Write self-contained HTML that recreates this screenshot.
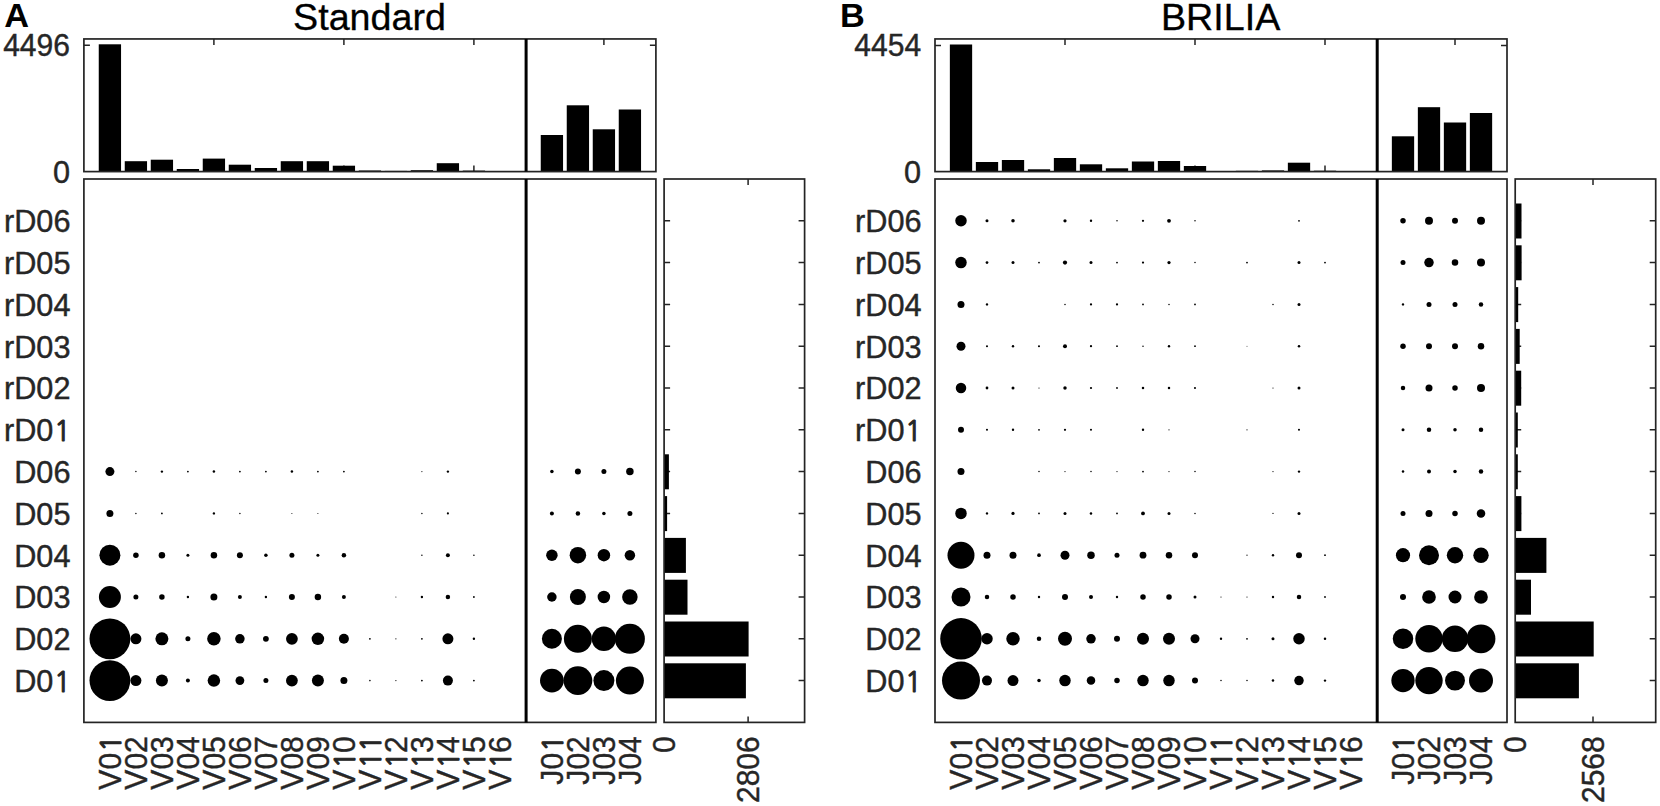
<!DOCTYPE html>
<html lang="en"><head><meta charset="utf-8"><title>Standard vs BRILIA</title>
<style>html,body{margin:0;padding:0;background:#fff}body{width:1660px;height:806px;overflow:hidden}svg{display:block}text{font-family:"Liberation Sans",Arial,Helvetica,sans-serif;font-kerning:none}.o{font-family:"NanumGothic","Liberation Sans",sans-serif;font-size:27.85px;stroke-width:1.1px}</style>
</head><body>
<svg width="1660" height="806" viewBox="0 0 1660 806">
<rect width="1660" height="806" fill="#fff"/>
<g transform="translate(0,0)">
<path d="M213.9 38.95v6M213.9 171.6v-6M343.9 38.95v6M343.9 171.6v-6M473.9 38.95v6M473.9 171.6v-6M603.9 38.95v6M603.9 171.6v-6M83.9 45.2h6M655.9 45.2h-6M664.1 680.6h6M804.6 680.6h-6M664.1 638.8h6M804.6 638.8h-6M664.1 597h6M804.6 597h-6M664.1 555.2h6M804.6 555.2h-6M664.1 513.4h6M804.6 513.4h-6M664.1 471.6h6M804.6 471.6h-6M664.1 429.8h6M804.6 429.8h-6M664.1 388h6M804.6 388h-6M664.1 346.2h6M804.6 346.2h-6M664.1 304.4h6M804.6 304.4h-6M664.1 262.6h6M804.6 262.6h-6M664.1 220.8h6M804.6 220.8h-6M748.1 179v6M748.1 722.4v-6" fill="none" stroke="#242424" stroke-width="1.5"/>
<g fill="#000"><rect x="98.75" y="44.3" width="22.3" height="127.3"/><rect x="124.75" y="161.2" width="22.3" height="10.4"/><rect x="150.75" y="159.7" width="22.3" height="11.9"/><rect x="176.75" y="169" width="22.3" height="2.6"/><rect x="202.75" y="158.6" width="22.3" height="13"/><rect x="228.75" y="164.7" width="22.3" height="6.9"/><rect x="254.75" y="168" width="22.3" height="3.6"/><rect x="280.75" y="161.2" width="22.3" height="10.4"/><rect x="306.75" y="161.2" width="22.3" height="10.4"/><rect x="332.75" y="165.7" width="22.3" height="5.9"/><rect x="358.75" y="170.5" width="22.3" height="1.1"/><rect x="384.75" y="170.9" width="22.3" height="0.7"/><rect x="410.75" y="170.2" width="22.3" height="1.4"/><rect x="436.75" y="163.2" width="22.3" height="8.4"/><rect x="462.75" y="170.6" width="22.3" height="1"/><rect x="488.75" y="171" width="22.3" height="0.6"/><rect x="540.75" y="135" width="22.3" height="36.6"/><rect x="566.75" y="105.3" width="22.3" height="66.3"/><rect x="592.75" y="129.3" width="22.3" height="42.3"/><rect x="618.75" y="109.5" width="22.3" height="62.1"/></g>
<g fill="#000"><rect x="664.1" y="663.3" width="81.8" height="35"/><rect x="664.1" y="621.5" width="84.5" height="35"/><rect x="664.1" y="579.7" width="23.4" height="35"/><rect x="664.1" y="537.9" width="21.8" height="35"/><rect x="664.1" y="496.1" width="3" height="35"/><rect x="664.1" y="454.3" width="4.8" height="35"/></g>
<g fill="#000"><circle cx="109.9" cy="680.6" r="20.4"/><circle cx="135.9" cy="680.6" r="5.5"/><circle cx="161.9" cy="680.6" r="6"/><circle cx="187.9" cy="680.6" r="2"/><circle cx="213.9" cy="680.6" r="6.25"/><circle cx="239.9" cy="680.6" r="4.4"/><circle cx="265.9" cy="680.6" r="2.5"/><circle cx="291.9" cy="680.6" r="5.9"/><circle cx="317.9" cy="680.6" r="6"/><circle cx="343.9" cy="680.6" r="3.5"/><circle cx="369.9" cy="680.6" r="0.79"/><circle cx="395.9" cy="680.6" r="0.62"/><circle cx="421.9" cy="680.6" r="0.9"/><circle cx="447.9" cy="680.6" r="5"/><circle cx="473.9" cy="680.6" r="0.9"/><circle cx="551.9" cy="680.6" r="11.9"/><circle cx="577.9" cy="680.6" r="14.4"/><circle cx="603.9" cy="680.6" r="10.5"/><circle cx="629.9" cy="680.6" r="14"/><circle cx="109.9" cy="638.8" r="20.4"/><circle cx="135.9" cy="638.8" r="5.5"/><circle cx="161.9" cy="638.8" r="6.5"/><circle cx="187.9" cy="638.8" r="2.5"/><circle cx="213.9" cy="638.8" r="6.75"/><circle cx="239.9" cy="638.8" r="4.75"/><circle cx="265.9" cy="638.8" r="2.9"/><circle cx="291.9" cy="638.8" r="5.9"/><circle cx="317.9" cy="638.8" r="6.25"/><circle cx="343.9" cy="638.8" r="5"/><circle cx="369.9" cy="638.8" r="0.9"/><circle cx="395.9" cy="638.8" r="0.62"/><circle cx="421.9" cy="638.8" r="0.9"/><circle cx="447.9" cy="638.8" r="5.5"/><circle cx="473.9" cy="638.8" r="1.18"/><circle cx="551.9" cy="638.8" r="10"/><circle cx="577.9" cy="638.8" r="14"/><circle cx="603.9" cy="638.8" r="12.25"/><circle cx="629.9" cy="638.8" r="15"/><circle cx="109.9" cy="597" r="11"/><circle cx="135.9" cy="597" r="2.5"/><circle cx="161.9" cy="597" r="2.75"/><circle cx="187.9" cy="597" r="1.18"/><circle cx="213.9" cy="597" r="3.5"/><circle cx="239.9" cy="597" r="2"/><circle cx="265.9" cy="597" r="1.18"/><circle cx="291.9" cy="597" r="3"/><circle cx="317.9" cy="597" r="3.25"/><circle cx="343.9" cy="597" r="2"/><circle cx="395.9" cy="597" r="0.52"/><circle cx="421.9" cy="597" r="1.18"/><circle cx="447.9" cy="597" r="2.25"/><circle cx="473.9" cy="597" r="0.9"/><circle cx="551.9" cy="597" r="4.75"/><circle cx="577.9" cy="597" r="8"/><circle cx="603.9" cy="597" r="6.25"/><circle cx="629.9" cy="597" r="7.75"/><circle cx="109.9" cy="555.2" r="10.5"/><circle cx="135.9" cy="555.2" r="2.75"/><circle cx="161.9" cy="555.2" r="3.25"/><circle cx="187.9" cy="555.2" r="1.5"/><circle cx="213.9" cy="555.2" r="3.25"/><circle cx="239.9" cy="555.2" r="3"/><circle cx="265.9" cy="555.2" r="1.75"/><circle cx="291.9" cy="555.2" r="2.5"/><circle cx="317.9" cy="555.2" r="1.5"/><circle cx="343.9" cy="555.2" r="2.25"/><circle cx="421.9" cy="555.2" r="0.73"/><circle cx="447.9" cy="555.2" r="2"/><circle cx="473.9" cy="555.2" r="0.79"/><circle cx="551.9" cy="555.2" r="5.75"/><circle cx="577.9" cy="555.2" r="8.25"/><circle cx="603.9" cy="555.2" r="6.25"/><circle cx="629.9" cy="555.2" r="5.25"/><circle cx="109.9" cy="513.4" r="3.5"/><circle cx="135.9" cy="513.4" r="0.73"/><circle cx="161.9" cy="513.4" r="0.9"/><circle cx="213.9" cy="513.4" r="1.18"/><circle cx="239.9" cy="513.4" r="0.73"/><circle cx="291.9" cy="513.4" r="0.52"/><circle cx="317.9" cy="513.4" r="0.52"/><circle cx="421.9" cy="513.4" r="0.73"/><circle cx="447.9" cy="513.4" r="1.07"/><circle cx="551.9" cy="513.4" r="2"/><circle cx="577.9" cy="513.4" r="2.25"/><circle cx="603.9" cy="513.4" r="1.75"/><circle cx="629.9" cy="513.4" r="2.5"/><circle cx="109.9" cy="471.6" r="4.5"/><circle cx="135.9" cy="471.6" r="0.73"/><circle cx="161.9" cy="471.6" r="1.18"/><circle cx="187.9" cy="471.6" r="0.9"/><circle cx="213.9" cy="471.6" r="1.25"/><circle cx="239.9" cy="471.6" r="0.9"/><circle cx="265.9" cy="471.6" r="0.9"/><circle cx="291.9" cy="471.6" r="1.25"/><circle cx="317.9" cy="471.6" r="0.9"/><circle cx="343.9" cy="471.6" r="0.9"/><circle cx="421.9" cy="471.6" r="0.57"/><circle cx="447.9" cy="471.6" r="1.18"/><circle cx="551.9" cy="471.6" r="1.75"/><circle cx="577.9" cy="471.6" r="3"/><circle cx="603.9" cy="471.6" r="2.5"/><circle cx="629.9" cy="471.6" r="3.75"/></g>
<g fill="none" stroke="#242424" stroke-width="1.7">
<rect x="83.9" y="38.95" width="572" height="132.65"/>
<rect x="83.9" y="179" width="572" height="543.4"/>
<rect x="664.1" y="179" width="140.5" height="543.4"/>
</g>
<path d="M526.1 38.95V171.6M526.1 179V722.4" stroke="#000" stroke-width="3" fill="none"/>
<g fill="#262626" stroke="#262626" stroke-width="0.4" font-size="31">
<text transform="translate(70,55.9) scale(0.97,1)" text-anchor="end">4496</text>
<text transform="translate(70,182.9) scale(0.99,1)" text-anchor="end">0</text>
<text x="0.14" transform="translate(70.5,691.9) scale(0.99,1)" text-anchor="end">D0<tspan class="o" dx="0.5">1</tspan></text>
<text x="0" transform="translate(70.5,650.1) scale(0.99,1)" text-anchor="end">D02</text>
<text x="0" transform="translate(70.5,608.3) scale(0.99,1)" text-anchor="end">D03</text>
<text x="0" transform="translate(70.5,566.5) scale(0.99,1)" text-anchor="end">D04</text>
<text x="0" transform="translate(70.5,524.7) scale(0.99,1)" text-anchor="end">D05</text>
<text x="0" transform="translate(70.5,482.9) scale(0.99,1)" text-anchor="end">D06</text>
<text x="0.14" transform="translate(70.5,441.1) scale(0.99,1)" text-anchor="end">rD0<tspan class="o" dx="0.5">1</tspan></text>
<text x="0" transform="translate(70.5,399.3) scale(0.99,1)" text-anchor="end">rD02</text>
<text x="0" transform="translate(70.5,357.5) scale(0.99,1)" text-anchor="end">rD03</text>
<text x="0" transform="translate(70.5,315.7) scale(0.99,1)" text-anchor="end">rD04</text>
<text x="0" transform="translate(70.5,273.9) scale(0.99,1)" text-anchor="end">rD05</text>
<text x="0" transform="translate(70.5,232.1) scale(0.99,1)" text-anchor="end">rD06</text>
<text x="0.94" transform="translate(120.7,736.2) rotate(-90) scale(0.97,1)" text-anchor="end">V0<tspan class="o" dx="1.3">1</tspan></text>
<text x="0" transform="translate(146.7,736.2) rotate(-90) scale(0.97,1)" text-anchor="end">V02</text>
<text x="0" transform="translate(172.7,736.2) rotate(-90) scale(0.97,1)" text-anchor="end">V03</text>
<text x="0" transform="translate(198.7,736.2) rotate(-90) scale(0.97,1)" text-anchor="end">V04</text>
<text x="0" transform="translate(224.7,736.2) rotate(-90) scale(0.97,1)" text-anchor="end">V05</text>
<text x="0" transform="translate(250.7,736.2) rotate(-90) scale(0.97,1)" text-anchor="end">V06</text>
<text x="0" transform="translate(276.7,736.2) rotate(-90) scale(0.97,1)" text-anchor="end">V07</text>
<text x="0" transform="translate(302.7,736.2) rotate(-90) scale(0.97,1)" text-anchor="end">V08</text>
<text x="0" transform="translate(328.7,736.2) rotate(-90) scale(0.97,1)" text-anchor="end">V09</text>
<text x="0" transform="translate(354.7,736.2) rotate(-90) scale(0.97,1)" text-anchor="end">V<tspan class="o" dx="1.3">1</tspan><tspan dx="-0.94" dy="0">0</tspan></text>
<text x="0.94" transform="translate(380.7,736.2) rotate(-90) scale(0.97,1)" text-anchor="end">V<tspan class="o" dx="1.3">1</tspan><tspan class="o" dx="0.36">1</tspan></text>
<text x="0" transform="translate(406.7,736.2) rotate(-90) scale(0.97,1)" text-anchor="end">V<tspan class="o" dx="1.3">1</tspan><tspan dx="-0.94" dy="0">2</tspan></text>
<text x="0" transform="translate(432.7,736.2) rotate(-90) scale(0.97,1)" text-anchor="end">V<tspan class="o" dx="1.3">1</tspan><tspan dx="-0.94" dy="0">3</tspan></text>
<text x="0" transform="translate(458.7,736.2) rotate(-90) scale(0.97,1)" text-anchor="end">V<tspan class="o" dx="1.3">1</tspan><tspan dx="-0.94" dy="0">4</tspan></text>
<text x="0" transform="translate(484.7,736.2) rotate(-90) scale(0.97,1)" text-anchor="end">V<tspan class="o" dx="1.3">1</tspan><tspan dx="-0.94" dy="0">5</tspan></text>
<text x="0" transform="translate(510.7,736.2) rotate(-90) scale(0.97,1)" text-anchor="end">V<tspan class="o" dx="1.3">1</tspan><tspan dx="-0.94" dy="0">6</tspan></text>
<text x="0.94" transform="translate(562.7,736.2) rotate(-90) scale(0.97,1)" text-anchor="end">J0<tspan class="o" dx="1.3">1</tspan></text>
<text x="0" transform="translate(588.7,736.2) rotate(-90) scale(0.97,1)" text-anchor="end">J02</text>
<text x="0" transform="translate(614.7,736.2) rotate(-90) scale(0.97,1)" text-anchor="end">J03</text>
<text x="0" transform="translate(640.7,736.2) rotate(-90) scale(0.97,1)" text-anchor="end">J04</text>
<text transform="translate(674.9,736.2) rotate(-90) scale(0.97,1)" text-anchor="end">0</text>
<text transform="translate(758.9,736.2) rotate(-90) scale(0.97,1)" text-anchor="end">2806</text>
</g>
<text transform="translate(369.5,29.6) scale(1.018,1)" text-anchor="middle" font-size="37" fill="#000" stroke="#000" stroke-width="0.3">Standard</text>
</g>
<g transform="translate(851.1,0)">
<path d="M213.9 38.95v6M213.9 171.6v-6M343.9 38.95v6M343.9 171.6v-6M473.9 38.95v6M473.9 171.6v-6M603.9 38.95v6M603.9 171.6v-6M83.9 45.4h6M655.9 45.4h-6M664.1 680.6h6M804.6 680.6h-6M664.1 638.8h6M804.6 638.8h-6M664.1 597h6M804.6 597h-6M664.1 555.2h6M804.6 555.2h-6M664.1 513.4h6M804.6 513.4h-6M664.1 471.6h6M804.6 471.6h-6M664.1 429.8h6M804.6 429.8h-6M664.1 388h6M804.6 388h-6M664.1 346.2h6M804.6 346.2h-6M664.1 304.4h6M804.6 304.4h-6M664.1 262.6h6M804.6 262.6h-6M664.1 220.8h6M804.6 220.8h-6M741.9 179v6M741.9 722.4v-6" fill="none" stroke="#242424" stroke-width="1.5"/>
<g fill="#000"><rect x="98.75" y="44.5" width="22.3" height="127.1"/><rect x="124.75" y="162" width="22.3" height="9.6"/><rect x="150.75" y="160" width="22.3" height="11.6"/><rect x="176.75" y="169.3" width="22.3" height="2.3"/><rect x="202.75" y="158" width="22.3" height="13.6"/><rect x="228.75" y="164.3" width="22.3" height="7.3"/><rect x="254.75" y="168.3" width="22.3" height="3.3"/><rect x="280.75" y="161.5" width="22.3" height="10.1"/><rect x="306.75" y="161" width="22.3" height="10.6"/><rect x="332.75" y="166" width="22.3" height="5.6"/><rect x="358.75" y="171" width="22.3" height="0.6"/><rect x="384.75" y="170.8" width="22.3" height="0.8"/><rect x="410.75" y="170.4" width="22.3" height="1.2"/><rect x="436.75" y="162.7" width="22.3" height="8.9"/><rect x="462.75" y="170.7" width="22.3" height="0.9"/><rect x="488.75" y="171" width="22.3" height="0.6"/><rect x="540.75" y="136.3" width="22.3" height="35.3"/><rect x="566.75" y="107.2" width="22.3" height="64.4"/><rect x="592.75" y="122.5" width="22.3" height="49.1"/><rect x="618.75" y="113" width="22.3" height="58.6"/></g>
<g fill="#000"><rect x="664.1" y="663.3" width="63.7" height="35"/><rect x="664.1" y="621.5" width="78.5" height="35"/><rect x="664.1" y="579.7" width="15.8" height="35"/><rect x="664.1" y="537.9" width="31.2" height="35"/><rect x="664.1" y="496.1" width="6.2" height="35"/><rect x="664.1" y="454.3" width="2.6" height="35"/><rect x="664.1" y="412.5" width="2.6" height="35"/><rect x="664.1" y="370.7" width="6" height="35"/><rect x="664.1" y="328.9" width="4.5" height="35"/><rect x="664.1" y="287.1" width="3" height="35"/><rect x="664.1" y="245.3" width="6.4" height="35"/><rect x="664.1" y="203.5" width="6.3" height="35"/></g>
<g fill="#000"><circle cx="109.9" cy="680.6" r="19"/><circle cx="135.9" cy="680.6" r="5"/><circle cx="161.9" cy="680.6" r="5.5"/><circle cx="187.9" cy="680.6" r="1.75"/><circle cx="213.9" cy="680.6" r="5.75"/><circle cx="239.9" cy="680.6" r="4.25"/><circle cx="265.9" cy="680.6" r="2.75"/><circle cx="291.9" cy="680.6" r="5.75"/><circle cx="317.9" cy="680.6" r="5.75"/><circle cx="343.9" cy="680.6" r="3"/><circle cx="369.9" cy="680.6" r="0.76"/><circle cx="395.9" cy="680.6" r="0.76"/><circle cx="421.9" cy="680.6" r="1.25"/><circle cx="447.9" cy="680.6" r="4.75"/><circle cx="473.9" cy="680.6" r="1.18"/><circle cx="551.9" cy="680.6" r="11.65"/><circle cx="577.9" cy="680.6" r="13.7"/><circle cx="603.9" cy="680.6" r="9.95"/><circle cx="629.9" cy="680.6" r="12"/><circle cx="109.9" cy="638.8" r="20.75"/><circle cx="135.9" cy="638.8" r="5.75"/><circle cx="161.9" cy="638.8" r="6.75"/><circle cx="187.9" cy="638.8" r="2.25"/><circle cx="213.9" cy="638.8" r="7"/><circle cx="239.9" cy="638.8" r="4.75"/><circle cx="265.9" cy="638.8" r="3"/><circle cx="291.9" cy="638.8" r="6"/><circle cx="317.9" cy="638.8" r="6"/><circle cx="343.9" cy="638.8" r="4.5"/><circle cx="369.9" cy="638.8" r="1.18"/><circle cx="395.9" cy="638.8" r="0.9"/><circle cx="421.9" cy="638.8" r="1.5"/><circle cx="447.9" cy="638.8" r="5.75"/><circle cx="473.9" cy="638.8" r="1.25"/><circle cx="551.9" cy="638.8" r="10.25"/><circle cx="577.9" cy="638.8" r="13.7"/><circle cx="603.9" cy="638.8" r="13.2"/><circle cx="629.9" cy="638.8" r="14.4"/><circle cx="109.9" cy="597" r="9.5"/><circle cx="135.9" cy="597" r="2.25"/><circle cx="161.9" cy="597" r="2.75"/><circle cx="187.9" cy="597" r="1.18"/><circle cx="213.9" cy="597" r="3"/><circle cx="239.9" cy="597" r="2"/><circle cx="265.9" cy="597" r="1.18"/><circle cx="291.9" cy="597" r="2.75"/><circle cx="317.9" cy="597" r="2.75"/><circle cx="343.9" cy="597" r="1.5"/><circle cx="369.9" cy="597" r="0.62"/><circle cx="395.9" cy="597" r="0.62"/><circle cx="421.9" cy="597" r="1.18"/><circle cx="447.9" cy="597" r="2.25"/><circle cx="473.9" cy="597" r="0.9"/><circle cx="551.9" cy="597" r="3"/><circle cx="577.9" cy="597" r="6.85"/><circle cx="603.9" cy="597" r="6.5"/><circle cx="629.9" cy="597" r="6.85"/><circle cx="109.9" cy="555.2" r="13.5"/><circle cx="135.9" cy="555.2" r="3.5"/><circle cx="161.9" cy="555.2" r="3.5"/><circle cx="187.9" cy="555.2" r="1.85"/><circle cx="213.9" cy="555.2" r="4.5"/><circle cx="239.9" cy="555.2" r="3.75"/><circle cx="265.9" cy="555.2" r="2.5"/><circle cx="291.9" cy="555.2" r="3.4"/><circle cx="317.9" cy="555.2" r="3.25"/><circle cx="343.9" cy="555.2" r="3"/><circle cx="395.9" cy="555.2" r="0.62"/><circle cx="421.9" cy="555.2" r="1.18"/><circle cx="447.9" cy="555.2" r="3"/><circle cx="473.9" cy="555.2" r="0.9"/><circle cx="551.9" cy="555.2" r="7.1"/><circle cx="577.9" cy="555.2" r="10"/><circle cx="603.9" cy="555.2" r="8.2"/><circle cx="629.9" cy="555.2" r="7.7"/><circle cx="109.9" cy="513.4" r="5.75"/><circle cx="135.9" cy="513.4" r="1.18"/><circle cx="161.9" cy="513.4" r="1.62"/><circle cx="187.9" cy="513.4" r="0.9"/><circle cx="213.9" cy="513.4" r="1.5"/><circle cx="239.9" cy="513.4" r="1.25"/><circle cx="265.9" cy="513.4" r="0.9"/><circle cx="291.9" cy="513.4" r="1.88"/><circle cx="317.9" cy="513.4" r="1.5"/><circle cx="343.9" cy="513.4" r="0.76"/><circle cx="421.9" cy="513.4" r="0.62"/><circle cx="447.9" cy="513.4" r="1.5"/><circle cx="551.9" cy="513.4" r="2.5"/><circle cx="577.9" cy="513.4" r="3.5"/><circle cx="603.9" cy="513.4" r="2.75"/><circle cx="629.9" cy="513.4" r="4.25"/><circle cx="109.9" cy="471.6" r="3.5"/><circle cx="187.9" cy="471.6" r="0.76"/><circle cx="213.9" cy="471.6" r="0.62"/><circle cx="239.9" cy="471.6" r="0.76"/><circle cx="265.9" cy="471.6" r="0.62"/><circle cx="291.9" cy="471.6" r="0.9"/><circle cx="317.9" cy="471.6" r="0.62"/><circle cx="343.9" cy="471.6" r="0.76"/><circle cx="421.9" cy="471.6" r="0.62"/><circle cx="447.9" cy="471.6" r="1.18"/><circle cx="551.9" cy="471.6" r="1.25"/><circle cx="577.9" cy="471.6" r="2"/><circle cx="603.9" cy="471.6" r="1.75"/><circle cx="629.9" cy="471.6" r="2.25"/><circle cx="109.9" cy="429.8" r="3"/><circle cx="135.9" cy="429.8" r="1.04"/><circle cx="161.9" cy="429.8" r="1.18"/><circle cx="187.9" cy="429.8" r="0.9"/><circle cx="213.9" cy="429.8" r="1.12"/><circle cx="239.9" cy="429.8" r="1.04"/><circle cx="291.9" cy="429.8" r="1.18"/><circle cx="317.9" cy="429.8" r="0.62"/><circle cx="395.9" cy="429.8" r="0.62"/><circle cx="447.9" cy="429.8" r="1.04"/><circle cx="551.9" cy="429.8" r="1.5"/><circle cx="577.9" cy="429.8" r="2.25"/><circle cx="603.9" cy="429.8" r="1.75"/><circle cx="629.9" cy="429.8" r="2.25"/><circle cx="109.9" cy="388" r="5.25"/><circle cx="135.9" cy="388" r="1.38"/><circle cx="161.9" cy="388" r="1.5"/><circle cx="187.9" cy="388" r="0.62"/><circle cx="213.9" cy="388" r="1.75"/><circle cx="239.9" cy="388" r="1.12"/><circle cx="265.9" cy="388" r="0.9"/><circle cx="291.9" cy="388" r="1.25"/><circle cx="317.9" cy="388" r="1.25"/><circle cx="343.9" cy="388" r="1.04"/><circle cx="421.9" cy="388" r="0.62"/><circle cx="447.9" cy="388" r="1.5"/><circle cx="551.9" cy="388" r="2.25"/><circle cx="577.9" cy="388" r="3.5"/><circle cx="603.9" cy="388" r="2.75"/><circle cx="629.9" cy="388" r="4"/><circle cx="109.9" cy="346.2" r="4.5"/><circle cx="135.9" cy="346.2" r="1.04"/><circle cx="161.9" cy="346.2" r="1.18"/><circle cx="187.9" cy="346.2" r="1.04"/><circle cx="213.9" cy="346.2" r="2"/><circle cx="239.9" cy="346.2" r="1.12"/><circle cx="265.9" cy="346.2" r="0.9"/><circle cx="291.9" cy="346.2" r="0.76"/><circle cx="317.9" cy="346.2" r="1.18"/><circle cx="343.9" cy="346.2" r="0.9"/><circle cx="395.9" cy="346.2" r="0.49"/><circle cx="447.9" cy="346.2" r="1.25"/><circle cx="551.9" cy="346.2" r="2.75"/><circle cx="577.9" cy="346.2" r="3"/><circle cx="603.9" cy="346.2" r="3"/><circle cx="629.9" cy="346.2" r="3.25"/><circle cx="109.9" cy="304.4" r="3.5"/><circle cx="135.9" cy="304.4" r="1.18"/><circle cx="213.9" cy="304.4" r="0.76"/><circle cx="239.9" cy="304.4" r="1.12"/><circle cx="265.9" cy="304.4" r="1.12"/><circle cx="291.9" cy="304.4" r="0.9"/><circle cx="317.9" cy="304.4" r="0.76"/><circle cx="343.9" cy="304.4" r="0.9"/><circle cx="421.9" cy="304.4" r="0.76"/><circle cx="447.9" cy="304.4" r="1.5"/><circle cx="551.9" cy="304.4" r="1.18"/><circle cx="577.9" cy="304.4" r="2.5"/><circle cx="603.9" cy="304.4" r="2.5"/><circle cx="629.9" cy="304.4" r="2.25"/><circle cx="109.9" cy="262.6" r="5.75"/><circle cx="135.9" cy="262.6" r="1.38"/><circle cx="161.9" cy="262.6" r="1.5"/><circle cx="187.9" cy="262.6" r="0.9"/><circle cx="213.9" cy="262.6" r="2.12"/><circle cx="239.9" cy="262.6" r="1.5"/><circle cx="265.9" cy="262.6" r="0.9"/><circle cx="291.9" cy="262.6" r="1.12"/><circle cx="317.9" cy="262.6" r="1.62"/><circle cx="343.9" cy="262.6" r="0.76"/><circle cx="395.9" cy="262.6" r="0.9"/><circle cx="447.9" cy="262.6" r="1.5"/><circle cx="473.9" cy="262.6" r="0.9"/><circle cx="551.9" cy="262.6" r="2.5"/><circle cx="577.9" cy="262.6" r="4.75"/><circle cx="603.9" cy="262.6" r="3.25"/><circle cx="629.9" cy="262.6" r="4"/><circle cx="109.9" cy="220.8" r="5.75"/><circle cx="135.9" cy="220.8" r="1.5"/><circle cx="161.9" cy="220.8" r="1.75"/><circle cx="213.9" cy="220.8" r="1.62"/><circle cx="239.9" cy="220.8" r="1.18"/><circle cx="265.9" cy="220.8" r="0.76"/><circle cx="291.9" cy="220.8" r="1.12"/><circle cx="317.9" cy="220.8" r="1.88"/><circle cx="343.9" cy="220.8" r="0.76"/><circle cx="447.9" cy="220.8" r="0.9"/><circle cx="551.9" cy="220.8" r="2.75"/><circle cx="577.9" cy="220.8" r="4"/><circle cx="603.9" cy="220.8" r="3"/><circle cx="629.9" cy="220.8" r="4"/></g>
<g fill="none" stroke="#242424" stroke-width="1.7">
<rect x="83.9" y="38.95" width="572" height="132.65"/>
<rect x="83.9" y="179" width="572" height="543.4"/>
<rect x="664.1" y="179" width="140.5" height="543.4"/>
</g>
<path d="M526.1 38.95V171.6M526.1 179V722.4" stroke="#000" stroke-width="3" fill="none"/>
<g fill="#262626" stroke="#262626" stroke-width="0.4" font-size="31">
<text transform="translate(70,56.1) scale(0.97,1)" text-anchor="end">4454</text>
<text transform="translate(70,182.9) scale(0.99,1)" text-anchor="end">0</text>
<text x="0.14" transform="translate(70.5,691.9) scale(0.99,1)" text-anchor="end">D0<tspan class="o" dx="0.5">1</tspan></text>
<text x="0" transform="translate(70.5,650.1) scale(0.99,1)" text-anchor="end">D02</text>
<text x="0" transform="translate(70.5,608.3) scale(0.99,1)" text-anchor="end">D03</text>
<text x="0" transform="translate(70.5,566.5) scale(0.99,1)" text-anchor="end">D04</text>
<text x="0" transform="translate(70.5,524.7) scale(0.99,1)" text-anchor="end">D05</text>
<text x="0" transform="translate(70.5,482.9) scale(0.99,1)" text-anchor="end">D06</text>
<text x="0.14" transform="translate(70.5,441.1) scale(0.99,1)" text-anchor="end">rD0<tspan class="o" dx="0.5">1</tspan></text>
<text x="0" transform="translate(70.5,399.3) scale(0.99,1)" text-anchor="end">rD02</text>
<text x="0" transform="translate(70.5,357.5) scale(0.99,1)" text-anchor="end">rD03</text>
<text x="0" transform="translate(70.5,315.7) scale(0.99,1)" text-anchor="end">rD04</text>
<text x="0" transform="translate(70.5,273.9) scale(0.99,1)" text-anchor="end">rD05</text>
<text x="0" transform="translate(70.5,232.1) scale(0.99,1)" text-anchor="end">rD06</text>
<text x="0.94" transform="translate(120.7,736.2) rotate(-90) scale(0.97,1)" text-anchor="end">V0<tspan class="o" dx="1.3">1</tspan></text>
<text x="0" transform="translate(146.7,736.2) rotate(-90) scale(0.97,1)" text-anchor="end">V02</text>
<text x="0" transform="translate(172.7,736.2) rotate(-90) scale(0.97,1)" text-anchor="end">V03</text>
<text x="0" transform="translate(198.7,736.2) rotate(-90) scale(0.97,1)" text-anchor="end">V04</text>
<text x="0" transform="translate(224.7,736.2) rotate(-90) scale(0.97,1)" text-anchor="end">V05</text>
<text x="0" transform="translate(250.7,736.2) rotate(-90) scale(0.97,1)" text-anchor="end">V06</text>
<text x="0" transform="translate(276.7,736.2) rotate(-90) scale(0.97,1)" text-anchor="end">V07</text>
<text x="0" transform="translate(302.7,736.2) rotate(-90) scale(0.97,1)" text-anchor="end">V08</text>
<text x="0" transform="translate(328.7,736.2) rotate(-90) scale(0.97,1)" text-anchor="end">V09</text>
<text x="0" transform="translate(354.7,736.2) rotate(-90) scale(0.97,1)" text-anchor="end">V<tspan class="o" dx="1.3">1</tspan><tspan dx="-0.94" dy="0">0</tspan></text>
<text x="0.94" transform="translate(380.7,736.2) rotate(-90) scale(0.97,1)" text-anchor="end">V<tspan class="o" dx="1.3">1</tspan><tspan class="o" dx="0.36">1</tspan></text>
<text x="0" transform="translate(406.7,736.2) rotate(-90) scale(0.97,1)" text-anchor="end">V<tspan class="o" dx="1.3">1</tspan><tspan dx="-0.94" dy="0">2</tspan></text>
<text x="0" transform="translate(432.7,736.2) rotate(-90) scale(0.97,1)" text-anchor="end">V<tspan class="o" dx="1.3">1</tspan><tspan dx="-0.94" dy="0">3</tspan></text>
<text x="0" transform="translate(458.7,736.2) rotate(-90) scale(0.97,1)" text-anchor="end">V<tspan class="o" dx="1.3">1</tspan><tspan dx="-0.94" dy="0">4</tspan></text>
<text x="0" transform="translate(484.7,736.2) rotate(-90) scale(0.97,1)" text-anchor="end">V<tspan class="o" dx="1.3">1</tspan><tspan dx="-0.94" dy="0">5</tspan></text>
<text x="0" transform="translate(510.7,736.2) rotate(-90) scale(0.97,1)" text-anchor="end">V<tspan class="o" dx="1.3">1</tspan><tspan dx="-0.94" dy="0">6</tspan></text>
<text x="0.94" transform="translate(562.7,736.2) rotate(-90) scale(0.97,1)" text-anchor="end">J0<tspan class="o" dx="1.3">1</tspan></text>
<text x="0" transform="translate(588.7,736.2) rotate(-90) scale(0.97,1)" text-anchor="end">J02</text>
<text x="0" transform="translate(614.7,736.2) rotate(-90) scale(0.97,1)" text-anchor="end">J03</text>
<text x="0" transform="translate(640.7,736.2) rotate(-90) scale(0.97,1)" text-anchor="end">J04</text>
<text transform="translate(674.9,736.2) rotate(-90) scale(0.97,1)" text-anchor="end">0</text>
<text transform="translate(752.7,736.2) rotate(-90) scale(0.97,1)" text-anchor="end">2568</text>
</g>
<text transform="translate(369.5,29.6) scale(1.018,1)" text-anchor="middle" font-size="37" fill="#000" stroke="#000" stroke-width="0.3">BRILIA</text>
</g>
<text transform="translate(4.3,26.8) scale(1.04,1)" font-size="33" font-weight="bold" fill="#000">A</text>
<text transform="translate(840,26.8) scale(1.04,1)" font-size="33" font-weight="bold" fill="#000">B</text>
</svg></body></html>
